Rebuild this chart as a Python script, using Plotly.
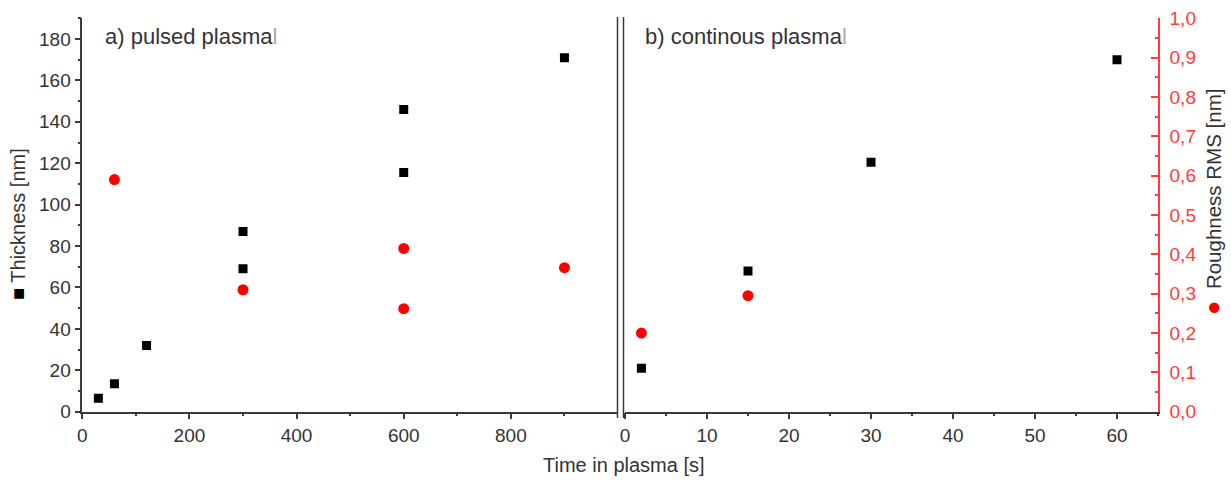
import plotly.graph_objects as go

# ---- data ----
pulsed_time_thick = [30, 60, 120, 300, 300, 600, 600, 900]
pulsed_thickness = [6.5, 13.5, 32, 87, 69, 146, 115.5, 171]
pulsed_time_rough = [60, 300, 600, 600, 900]
pulsed_roughness = [0.59, 0.31, 0.415, 0.262, 0.366]

cont_time_thick = [2, 15, 30, 60]
cont_thickness = [21, 68, 120.5, 170]
cont_time_rough = [2, 15]
cont_roughness = [0.2, 0.295]

left_xticks = [0, 200, 400, 600, 800]
left_xminor = [100, 300, 500, 700, 900]
right_xticks = [0, 10, 20, 30, 40, 50, 60]

W, H = 1231, 482
FONT = "Liberation Sans, Arial, sans-serif"
TXT = "#333333"
AX = "#3a3a3a"
RED = "#ff3b3b"

def px_x(p):
    return p / W

def px_y(p):
    return (H - p) / H

ydom = [px_y(411.7), px_y(18.3)]
xdom1 = [px_x(82.3), px_x(618)]
xdom2 = [px_x(625), px_x(1158)]

fig = go.Figure()

fig.add_trace(go.Scatter(x=pulsed_time_rough, y=pulsed_roughness, mode="markers",
                         marker=dict(symbol="circle", size=11, color="#ff0000"),
                         xaxis="x", yaxis="y4", showlegend=False))
fig.add_trace(go.Scatter(x=pulsed_time_thick, y=pulsed_thickness, mode="markers",
                         marker=dict(symbol="square", size=9, color="black"),
                         xaxis="x", yaxis="y", showlegend=False))
fig.add_trace(go.Scatter(x=cont_time_rough, y=cont_roughness, mode="markers",
                         marker=dict(symbol="circle", size=11, color="#ff0000"),
                         xaxis="x2", yaxis="y3", showlegend=False))
fig.add_trace(go.Scatter(x=cont_time_thick, y=cont_thickness, mode="markers",
                         marker=dict(symbol="square", size=9, color="black"),
                         xaxis="x2", yaxis="y2", showlegend=False))

tickfont = dict(family=FONT, size=19, color=TXT)

fig.update_layout(
    width=W, height=H,
    margin=dict(l=0, r=0, t=0, b=0, autoexpand=False),
    paper_bgcolor="white", plot_bgcolor="white",
    separators=",.",
    font=dict(family=FONT, color=TXT),
    xaxis=dict(domain=xdom1, range=[0, 1000], anchor="y", automargin=False,
               tickmode="array", tickvals=left_xticks,
               ticks="outside", ticklen=6, tickwidth=1.5, tickcolor=AX,
               minor=dict(tickmode="array", tickvals=left_xminor, ticks="outside",
                          ticklen=3, tickwidth=1.5, tickcolor=AX, showgrid=False),
               showline=True, linecolor=AX, linewidth=1.5,
               showgrid=False, zeroline=False, tickfont=tickfont),
    yaxis=dict(domain=ydom, range=[0, 190], anchor="x", automargin=False,
               dtick=20, tick0=0,
               ticks="outside", ticklen=6, tickwidth=1.5, tickcolor=AX,
               minor=dict(dtick=10, ticks="outside", ticklen=3, tickwidth=1.5,
                          tickcolor=AX, showgrid=False),
               showline=True, linecolor=AX, linewidth=1.5,
               showgrid=False, zeroline=False, tickfont=tickfont),
    yaxis4=dict(overlaying="y", range=[0, 1.0], visible=False, anchor="x",
                automargin=False),
    xaxis2=dict(domain=xdom2, range=[0, 65], anchor="y2", automargin=False,
                tickmode="array", tickvals=right_xticks,
                ticks="outside", ticklen=6, tickwidth=1.5, tickcolor=AX,
                minor=dict(dtick=5, tick0=0, ticks="outside", ticklen=3, tickwidth=1.5,
                           tickcolor=AX, showgrid=False),
                showline=True, linecolor=AX, linewidth=1.5,
                showgrid=False, zeroline=False, tickfont=tickfont),
    yaxis2=dict(domain=ydom, range=[0, 190], anchor="x2", visible=False,
                automargin=False),
    yaxis3=dict(overlaying="y2", side="right", anchor="x2", range=[0, 1.0],
                automargin=False,
                dtick=0.1, tick0=0, tickformat=".1f",
                ticks="inside", ticklen=7, tickwidth=1.5, tickcolor=RED,
                minor=dict(dtick=0.05, ticks="inside", ticklen=3.5, tickwidth=1.5,
                           tickcolor=RED, showgrid=False),
                showline=True, linecolor=RED, linewidth=1.5,
                showgrid=False, zeroline=False, ticklabelstandoff=6,
                tickfont=dict(family=FONT, size=19, color=RED)),
)

# axis-break double lines
for xp in (617.5, 623.5):
    fig.add_shape(type="line", xref="paper", yref="paper",
                  x0=px_x(xp), x1=px_x(xp), y0=px_y(418), y1=px_y(17),
                  line=dict(color=AX, width=1.5))

anns = [
    dict(text="<span style='color:black'>■</span> Thickness [nm]", x=px_x(18), y=px_y(224),
         textangle=-90, font=dict(family=FONT, size=20, color=TXT)),
    dict(text="<span style='color:#ff0000;font-size:24px'>●</span>  Roughness RMS [nm]",
         x=px_x(1213), y=px_y(202),
         textangle=-90, font=dict(family=FONT, size=20.5, color=TXT)),
    dict(text="Time in plasma [s]", x=px_x(624), y=px_y(465),
         font=dict(family=FONT, size=20, color=TXT)),
    dict(text="a) pulsed plasma<span style='color:#aaaaaa'>l</span>", x=px_x(103), y=px_y(37),
         xanchor="left", font=dict(family=FONT, size=22, color=TXT)),
    dict(text="b) continous plasma<span style='color:#aaaaaa'>l</span>", x=px_x(643), y=px_y(37),
         xanchor="left", font=dict(family=FONT, size=22, color=TXT)),
]
for a in anns:
    a.setdefault("xanchor", "center")
    fig.add_annotation(xref="paper", yref="paper", showarrow=False, yanchor="middle", **a)

fig.write_html("out.html")
